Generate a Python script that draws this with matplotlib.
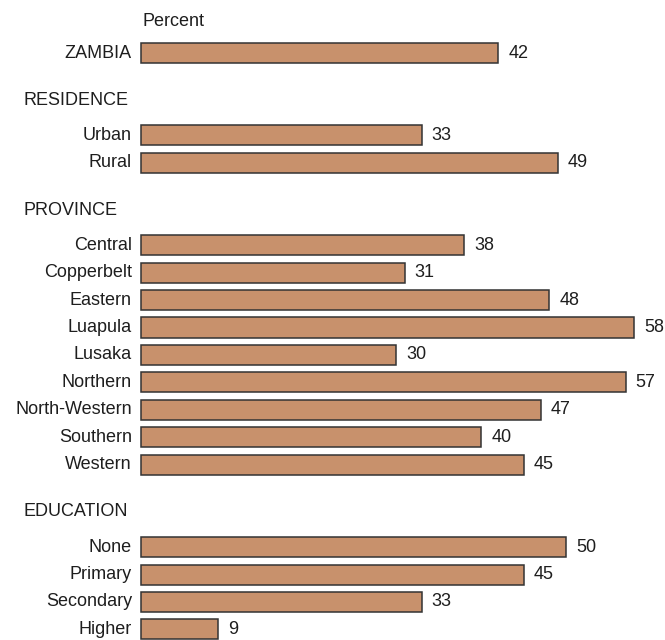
import matplotlib

matplotlib.use("Agg")
import matplotlib.pyplot as plt

plt.rcParams["font.family"] = ["Liberation Sans", "DejaVu Sans"]

# 数据：每组一个标题（ZAMBIA 无标题）
groups = ["", "RESIDENCE", "PROVINCE", "EDUCATION"]
labels = [
    ["ZAMBIA"],
    ["Urban", "Rural"],
    ["Central", "Copperbelt", "Eastern", "Luapula", "Lusaka", "Northern",
     "North-Western", "Southern", "Western"],
    ["None", "Primary", "Secondary", "Higher"],
]
values = [
    [42],
    [33, 49],
    [38, 31, 48, 58, 30, 57, 47, 40, 45],
    [50, 45, 33, 9],
]

BAR = "#c8916c"
EDGE = "#333333"
TXT = "#1e1e1e"

W, H = 665, 640
X0 = 141          # 条形起点 (px)
PX_PER_UNIT = 8.5
ROW = 27.45       # 行距 (px)
TOP = 53          # 第一行中心 (px)

fig = plt.figure(figsize=(W / 100, H / 100), dpi=100)
ax = fig.add_axes([0, 0, 1, 1])
ax.set_xlim(-X0 / PX_PER_UNIT, (W - X0) / PX_PER_UNIT)
ax.set_ylim((H - TOP) / ROW, -TOP / ROW)
ax.axis("off")

pos = 0.0
for gi, (head, labs, vals) in enumerate(zip(groups, labels, values)):
    if head:
        pos += 0.72
        ax.text(-13.8, pos, head, ha="left", va="center", fontsize=13, color=TXT)
        pos += 1.28
    for lab, v in zip(labs, vals):
        ax.barh(pos, v, height=0.73, left=0, color=BAR, edgecolor=EDGE, linewidth=1.1)
        ax.text(-1.06, pos, lab, ha="right", va="center", fontsize=13, color=TXT)
        ax.text(v + 1.2, pos, f"{v}", ha="left", va="center", fontsize=13, color=TXT)
        pos += 1
    # 组间留白

ax.text(0.2, -1.13, "Percent", ha="left", va="center", fontsize=13, color=TXT)

fig.savefig("out.png", dpi=100, facecolor="white")
